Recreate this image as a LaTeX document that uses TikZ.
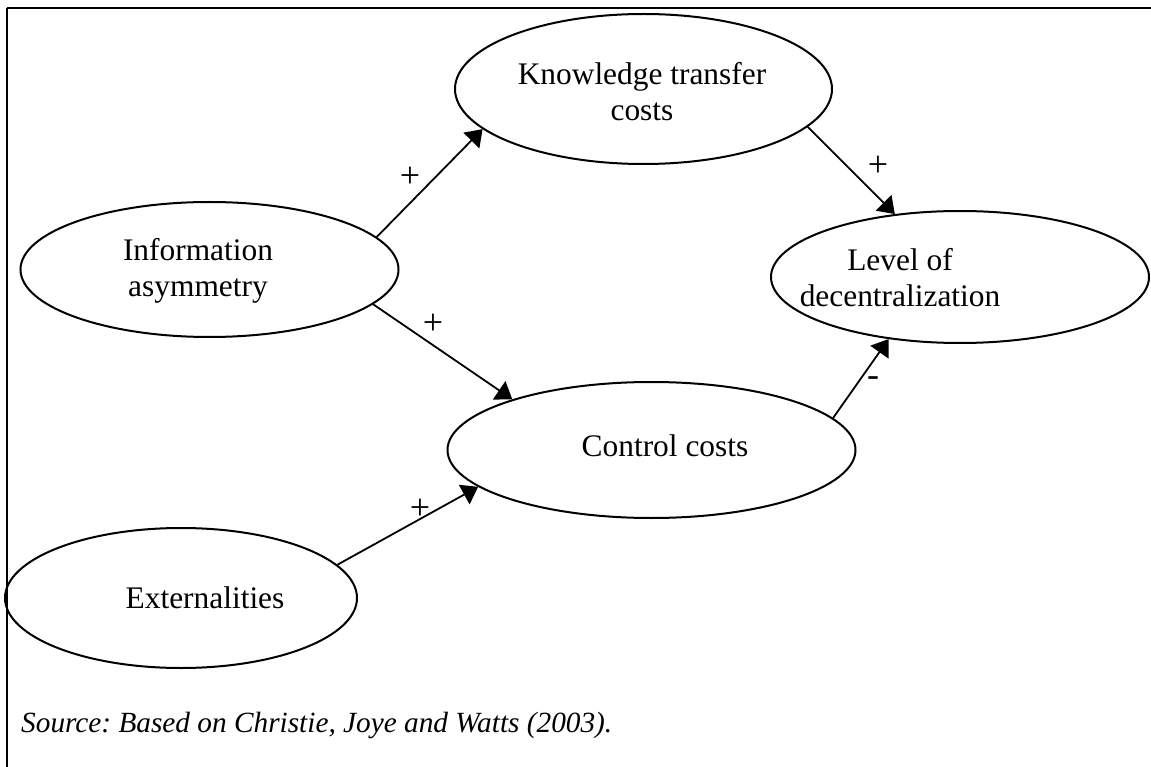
\documentclass[tikz,border=0pt]{standalone}
\usepackage{fontspec}
\setmainfont{Liberation Serif}
\usetikzlibrary{shapes.geometric,arrows.meta}
\begin{document}
\begin{tikzpicture}[x=1pt,y=-1pt,
  oval/.style={draw,line width=2pt,ellipse,inner sep=0pt},
  lbl/.style={font=\fontsize{31.4}{36}\selectfont,align=center,inner sep=0pt},
  conn/.style={line width=1.8pt,-{Triangle[length=16pt,width=22pt]}},
  sgn/.style={font=\fontsize{36}{40}\selectfont,inner sep=0pt}]
\useasboundingbox (0,0) rectangle (1151,767);
% frame
\draw[line width=2.7pt] (7,8) -- (1151,8);
\draw[line width=2pt] (7,8) -- (7,767);
% ellipses
\node[oval,minimum width=377pt,minimum height=150pt] (kt) at (643.5,89) {};
\node[oval,minimum width=378pt,minimum height=135pt] (ia) at (209.5,269.5) {};
\node[oval,minimum width=378pt,minimum height=132pt] (ld) at (960,277) {};
\node[oval,minimum width=408pt,minimum height=136pt] (cc) at (651.5,450) {};
\node[oval,minimum width=352pt,minimum height=140pt] (ex) at (181,598) {};
% texts
\node[lbl] (tkt) at (642,92) {Knowledge transfer\\costs};
\node[lbl] (tia) at (198,271) {Information\\asymmetry};
\node[lbl] (tld) at (900,278) {Level of\\decentralization};
\node[lbl] (tcc) at (665,446) {Control costs};
\node[lbl] (tex) at (205,598) {Externalities};
\node[font=\fontsize{29.3}{34}\selectfont\itshape,inner sep=0pt,anchor=base west] (src) at (21,732) {\frenchspacing Source: Based on Christie, Joye and Watts (2003).};
% connectors
\draw[conn] (ia.11.9) -- (kt.194.5);
\draw[conn] (kt.347.5) -- (ld.136.3);
\draw[conn] (ia.348.4) -- (cc.160.5);
\draw[conn] (ex.12.5) -- (cc.192.5);
\draw[conn] (cc.10.0) -- (ld.221.7);
% signs
\node[sgn] (p1) at (410,177) {+};
\node[sgn] (p2) at (878,166) {+};
\node[sgn] (p3) at (433,324) {+};
\node[sgn] (p4) at (420,509) {+};
\node[sgn] (m5) at (873,382) {-};
\end{tikzpicture}
\end{document}
